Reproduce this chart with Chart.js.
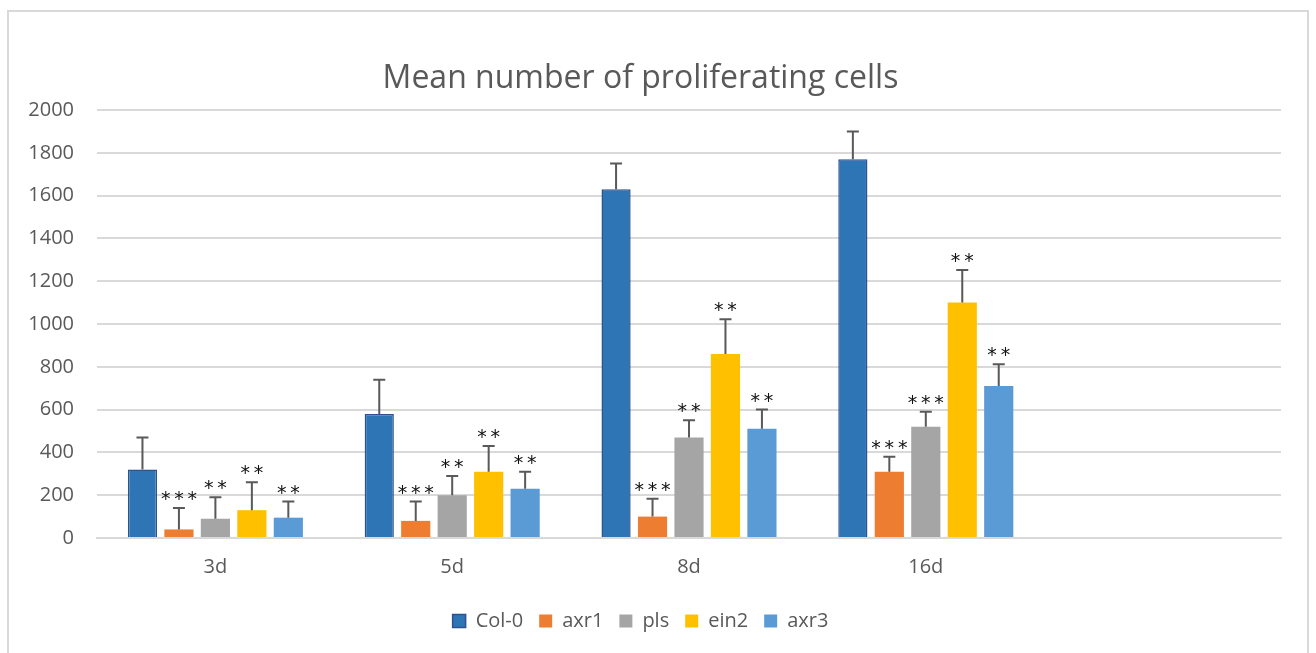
<!DOCTYPE html>
<html>
<head>
<meta charset="utf-8">
<script src="https://cdn.jsdelivr.net/npm/chart.js@4.4.1/dist/chart.umd.min.js"></script>
<style>
  html, body { margin: 0; padding: 0; background: #fff; }
  #wrap { position: relative; width: 1316px; height: 653px; overflow: hidden; }
  #frame { position: absolute; left: 7px; top: 10px; width: 1302px; height: 700px; border: 2px solid #d9d9d9; box-sizing: border-box; }
  canvas { position: absolute; left: 0; top: 0; }
</style>
</head>
<body>
<div id="wrap">
  <div id="frame"></div>
  <canvas id="c" width="1316" height="653"></canvas>
</div>
<script>
const categories = ['3d', '5d', '8d', '16d', ''];
const seriesNames = ['Col-0', 'axr1', 'pls', 'ein2', 'axr3'];

const col0 = [320, 580, 1630, 1770, null];
const axr1 = [40, 80, 100, 310, null];
const pls  = [90, 200, 470, 520, null];
const ein2 = [130, 310, 860, 1100, null];
const axr3 = [95, 230, 510, 710, null];

const col0Err = [150, 160, 120, 130];
const axr1Err = [100, 90, 83, 70];
const plsErr  = [100, 90, 80, 70];
const ein2Err = [130, 120, 162, 152];
const axr3Err = [75, 80, 90, 102];

const col0Sig = ['', '', '', ''];
const axr1Sig = ['***', '***', '***', '***'];
const plsSig  = ['**', '**', '**', '***'];
const ein2Sig = ['**', '**', '**', '**'];
const axr3Sig = ['**', '**', '**', '**'];

const yTicks = [0, 200, 400, 600, 800, 1000, 1200, 1400, 1600, 1800, 2000];

const colors = ['#2E75B6', '#ED7D31', '#A5A5A5', '#FFC000', '#5B9BD5'];
const values = [col0, axr1, pls, ein2, axr3];
const errors = [col0Err, axr1Err, plsErr, ein2Err, axr3Err];
const sigs = [col0Sig, axr1Sig, plsSig, ein2Sig, axr3Sig];

const FONT = "'Open Sans', 'Noto Sans', sans-serif";
const TXT = '#595959';

const errorBarPlugin = {
  id: 'errorBars',
  afterDatasetsDraw(chart) {
    const ctx = chart.ctx;
    const y = chart.scales.y;
    chart.data.datasets.forEach((ds, di) => {
      const meta = chart.getDatasetMeta(di);
      meta.data.forEach((bar, i) => {
        const v = ds.data[i];
        const e = errors[di][i];
        if (v == null || e == null) return;
        const top = y.getPixelForValue(v + e);
        const base = y.getPixelForValue(v);
        ctx.save();
        ctx.strokeStyle = '#595959';
        ctx.lineWidth = 2;
        ctx.beginPath();
        ctx.moveTo(bar.x, base);
        ctx.lineTo(bar.x, top);
        ctx.moveTo(bar.x - 6, top);
        ctx.lineTo(bar.x + 6, top);
        ctx.stroke();
        const s = sigs[di][i];
        if (s) {
          ctx.fillStyle = '#111111';
          ctx.font = "19px 'DejaVu Sans', sans-serif";
          ctx.textAlign = 'center';
          ctx.textBaseline = 'alphabetic';
          ctx.fillText(s.split('').join('\u2009'), bar.x, top - 3);
        }
        ctx.restore();
      });
    });
  }
};

new Chart(document.getElementById('c'), {
  type: 'bar',
  data: {
    labels: categories,
    datasets: values.map((d, i) => ({
      label: seriesNames[i],
      data: d,
      backgroundColor: colors[i],
      borderColor: i === 0 ? '#2F528F' : colors[i],
      borderWidth: i === 0 ? 1.5 : 0,
      categoryPercentage: 0.77,
      barPercentage: 0.8
    }))
  },
  options: {
    responsive: false,
    animation: false,
    layout: { padding: { left: 0, right: 35, top: 0, bottom: 12 } },
    plugins: {
      title: {
        display: true,
        text: 'Mean number of proliferating cells',
        color: TXT,
        font: { family: FONT, size: 32, weight: 'normal' },
        padding: { top: 60, bottom: 11.6 }
      },
      legend: {
        position: 'bottom',
        labels: {
          color: TXT,
          font: { family: FONT, size: 20 },
          boxWidth: 13,
          boxHeight: 13,
          padding: 16
        }
      },
      tooltip: { enabled: false }
    },
    scales: {
      x: {
        grid: { display: false },
        border: { display: true, color: '#d9d9d9', width: 2 },
        afterFit(s) { s.height += 7; },
        ticks: { color: TXT, font: { family: FONT, size: 20 }, padding: 9 }
      },
      y: {
        min: 0, max: 2000,
        afterBuildTicks(s) { s.ticks = yTicks.map(v => ({ value: v })); },
        afterFit(s) { s.width = 97; },
        grid: { color: '#d9d9d9', lineWidth: 2, drawTicks: false },
        border: { display: false },
        ticks: { color: TXT, font: { family: FONT, size: 20 }, padding: 23, callback: v => String(v) }
      }
    }
  },
  plugins: [errorBarPlugin]
});
</script>
</body>
</html>
